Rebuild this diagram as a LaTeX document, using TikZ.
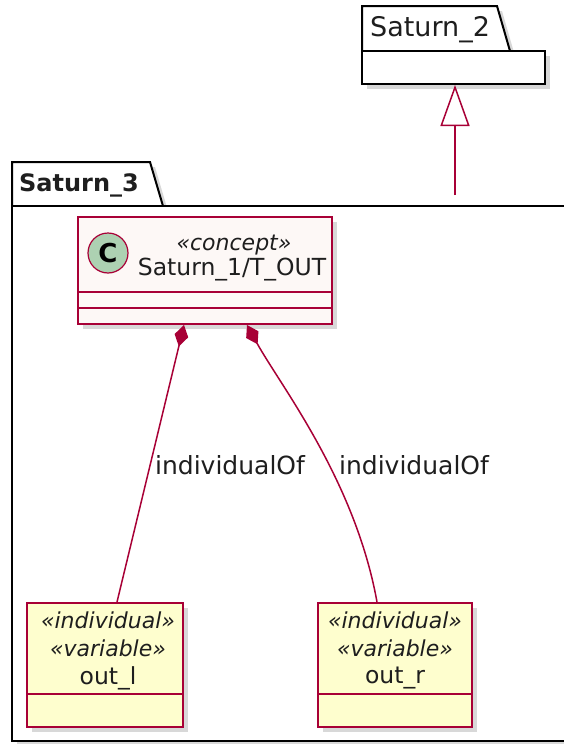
\documentclass[tikz,border=0pt]{standalone}
\usepackage{fontspec}
\setmainfont{DejaVu Sans}
\usetikzlibrary{arrows.meta,positioning,calc,shadows}
\definecolor{umlred}{HTML}{A80036}
\definecolor{umlyellow}{HTML}{FEFECE}
\definecolor{umlpink}{HTML}{FDF8F6}
\definecolor{umlgreen}{HTML}{ADD1B2}
\definecolor{umltext}{HTML}{1E1E1E}

\begin{document}
\begin{tikzpicture}[x=1pt,y=-1pt,
  shade/.style={drop shadow={shadow xshift=5pt,shadow yshift=-5pt,opacity=0.3}},
  pkg/.style={draw=black,line width=2pt,fill=white,shade},
  pkgname/.style={font=\fontsize{24}{28}\selectfont,text=umltext,inner sep=0pt,anchor=west},
  cls/.style={rectangle,draw=umlred,line width=2pt,inner sep=0pt,shade},
  sep/.style={draw=umlred,line width=1.8pt},
  txt/.style={font=\fontsize{23.5}{28}\selectfont,text=umltext,inner sep=0pt},
  ster/.style={font=\fontsize{22}{26}\itshape,text=umltext,inner sep=0pt},
  assoc/.style={{Diamond[length=22pt,width=14pt]}-,draw=umlred,line width=1.5pt},
  gen/.style={-{Triangle[length=41pt,width=29pt,fill=white]},draw=umlred,line width=1.5pt},
  lbl/.style={font=\fontsize{25}{28}\selectfont,text=umltext,inner sep=0pt}
]
  \useasboundingbox[fill=white] (0,0) rectangle (563,744);

  % ---- Package Saturn_2 ----------------------------------------
  \draw[pkg] (362,51) -- (362,6) -- (497,6) -- (510,51) -- cycle;
  \node[pkgname,font=\fontsize{27}{30}\selectfont] (s2name) at (370,30) {Saturn\_2};
  \node[pkg,rectangle,minimum width=183pt,minimum height=33pt,inner sep=0pt]
    (s2body) at (453.5,67.5) {};

  % ---- Package Saturn_3 ----------------------------------------
  \draw[pkg] (12,206) -- (12,162) -- (150,162) -- (163,206) -- cycle;
  \node[pkgname,font=\fontsize{24}{28}\bfseries] (s3name) at (19,185) {Saturn\_3};
  \node[pkg,rectangle,minimum width=560pt,minimum height=535pt,inner sep=0pt]
    (s3body) at (292,473.5) {};
  \coordinate (s3top) at (455,195);

  % ---- Concept class -------------------------------------------
  \node[cls,fill=umlpink,minimum width=254pt,minimum height=107pt] (tout) at (205,270.5) {};
  \draw[sep] ($(tout.north west)+(0,76)$) -- ($(tout.north east)+(0,76)$);
  \draw[sep] ($(tout.north west)+(0,92)$) -- ($(tout.north east)+(0,92)$);
  \node[circle,draw=umlred,fill=umlgreen,line width=1.2pt,minimum size=40pt,inner sep=0pt,
        font=\fontsize{26}{28}\bfseries] (tcirc) at (108,253) {C};
  \node[ster] (tster) at (234,245) {«concept»};
  \node[txt] (tlabel) at (232,270) {Saturn\_1/T\_OUT};

  % ---- Individuals ---------------------------------------------
  \node[cls,fill=umlyellow,minimum width=156pt,minimum height=124pt] (outl) at (105,665) {};
  \draw[sep] ($(outl.north west)+(0,92)$) -- ($(outl.north east)+(0,92)$);
  \node[ster] (outlster) at (108,620) {«individual»};
  \node[ster] (outlvar) at (108,648) {«variable»};
  \node[txt] (outllabel) at (108,678) {out\_l};

  \node[cls,fill=umlyellow,minimum width=154pt,minimum height=124pt] (outr) at (395,665) {};
  \draw[sep] ($(outr.north west)+(0,92)$) -- ($(outr.north east)+(0,92)$);
  \node[ster] (outrster) at (395,620) {«individual»};
  \node[ster] (outrvar) at (395,648) {«variable»};
  \node[txt] (outrlabel) at (395,678) {out\_r};

  % ---- Connectors ----------------------------------------------
  \draw[gen] (s3top) -- (s2body.south -| s3top);
  \draw[assoc] ($(tout.south west)+(107,0)$) -- ($(outl.north)+(12,0)$);
  \draw[assoc] ($(tout.south west)+(170,0)$) .. controls (280,385) and (355,480) .. ($(outr.north)+(-18,0)$);

  % ---- Labels --------------------------------------------------
  \node[lbl] (lbll) at (230,465) {individualOf};
  \node[lbl] (lblr) at (414,465) {individualOf};
\end{tikzpicture}
\end{document}
